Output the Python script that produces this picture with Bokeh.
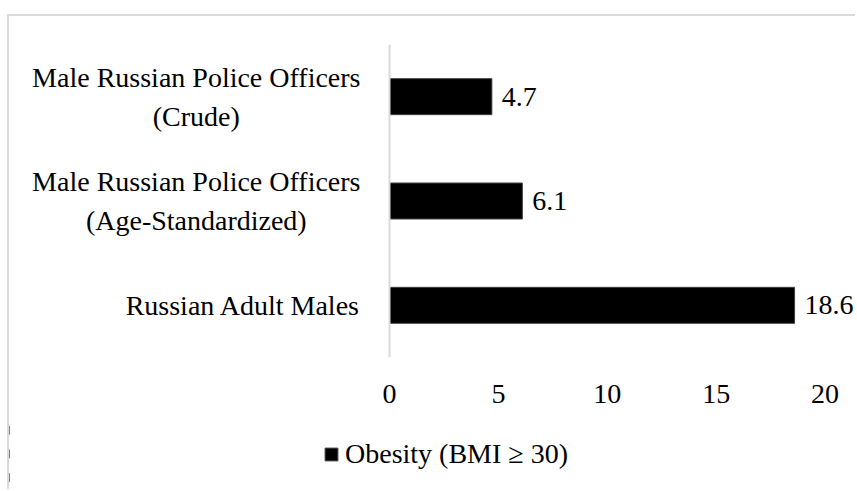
from bokeh.plotting import figure
from bokeh.models import ColumnDataSource, Legend, LegendItem, FactorRange, FixedTicker, Span, Spacer
from bokeh.layouts import column, row
from bokeh.embed import file_html
from bokeh.resources import INLINE

# ---- data ----
categories = [
    "Russian Adult Males",
    "Male Russian Police Officers\n(Age-Standardized)",
    "Male Russian Police Officers\n(Crude)",
]
values = [18.6, 6.1, 4.7]
value_labels = ["18.6", "6.1", "4.7"]
series_name = "Obesity (BMI \u2265 30)"
x_ticks = [0, 5, 10, 15, 20]

FONT = "Liberation Serif"
FS = "28px"
BORDER = "2px solid #d9d9d9"
BAR_FILL = "black"
BAR_LINE = "#404040"

src = ColumnDataSource(dict(cat=categories, val=values, lbl=value_labels,
                            zero=[0] * len(values)))

# ---- main chart ----
p = figure(
    width=848, height=404,
    y_range=FactorRange(*categories), x_range=(-17.45, 21.49),
    output_backend="svg", toolbar_location=None,
    y_axis_location=None,
    min_border_left=0, min_border_right=0,
    min_border_top=28, min_border_bottom=63,
)
p.styles = {"border-top": BORDER, "border-left": BORDER}
p.outline_line_color = None
p.xgrid.grid_line_color = None
p.ygrid.grid_line_color = None

# vertical category axis line at x = 0
p.add_layout(Span(location=0, dimension="height", line_color="#d9d9d9", line_width=2))

p.hbar(y="cat", left="zero", right="val", height=0.345, source=src,
       fill_color=BAR_FILL, line_color=BAR_LINE, line_width=1)

# value labels
p.text(x="val", y="cat", text="lbl", source=src, x_offset=10,
       text_baseline="middle", text_align="left",
       text_font=FONT, text_font_size=FS, text_color="black")

# category labels: lines centred within the block, block right-aligned to the axis
p.text(x="zero", y="cat", text="cat", source=src, x_offset=-29,
       anchor="center_right", text_align="center", text_baseline="middle",
       text_font=FONT, text_font_size=FS, text_color="black", text_line_height=1.25)

# x axis
p.xaxis.ticker = FixedTicker(ticks=x_ticks)
p.xaxis.axis_line_color = None
p.xaxis.major_tick_line_color = None
p.xaxis.minor_tick_line_color = None
p.xaxis.major_tick_out = 0
p.xaxis.major_label_standoff = 27
p.xaxis.major_label_text_font = FONT
p.xaxis.major_label_text_font_size = FS
p.xaxis.major_label_text_color = "black"

# ---- legend strip below the chart ----
# same series drawn here, but its bars fall outside this strip's visible x range;
# only the legend key is shown
lg = figure(
    width=848, height=71,
    y_range=FactorRange(*categories), x_range=(100, 200),
    output_backend="svg", toolbar_location=None,
    x_axis_location=None, y_axis_location=None,
    min_border_left=0, min_border_right=0, min_border_top=0, min_border_bottom=0,
)
lg.styles = {"border-left": BORDER}
lg.outline_line_color = None
lg.xgrid.grid_line_color = None
lg.ygrid.grid_line_color = None
key = lg.hbar(y="cat", left="zero", right="val", height=0.345, source=src,
              fill_color=BAR_FILL, line_color=BAR_LINE, line_width=1)

legend = Legend(items=[LegendItem(label=series_name, renderers=[key])],
                location=(314, 19), orientation="horizontal",
                label_text_font=FONT, label_text_font_size=FS,
                label_text_color="black",
                glyph_width=16, glyph_height=16, label_standoff=6,
                border_line_color=None, background_fill_alpha=0,
                margin=0, padding=0)
lg.add_layout(legend)

layout = row(Spacer(width=7), column(Spacer(height=14), p, lg, spacing=0), spacing=0)
open("out.html", "w").write(file_html(layout, INLINE))
